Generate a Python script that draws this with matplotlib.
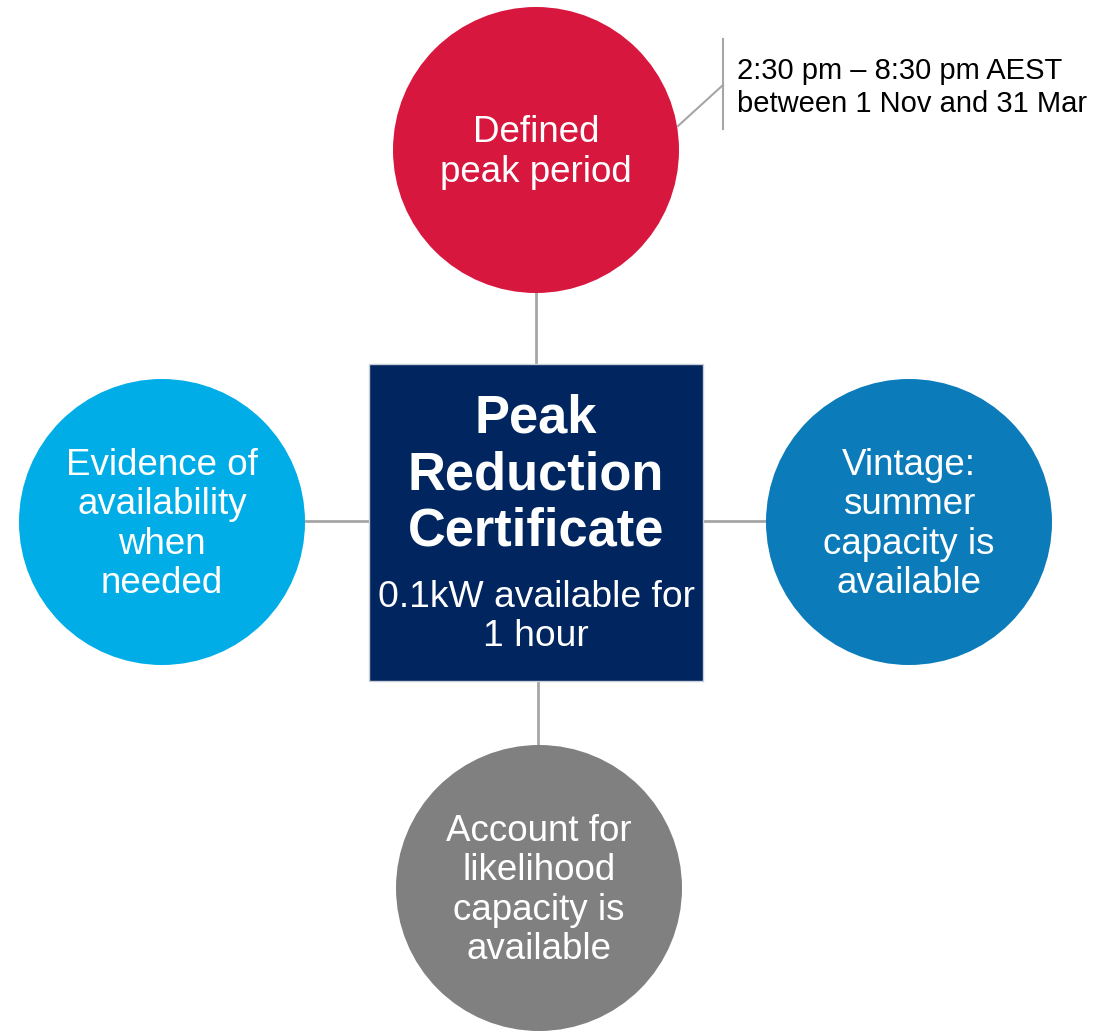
import matplotlib
matplotlib.use('Agg')
import matplotlib.pyplot as plot
from matplotlib.patches import Circle, Rectangle

matplotlib.rcParams['font.family'] = ['Liberation Sans', 'DejaVu Sans']

# node texts and colours
node_labels = ['Defined\npeak period',
               'Evidence of\navailability\nwhen\nneeded',
               'Vintage:\nsummer\ncapacity is\navailable',
               'Account for\nlikelihood\ncapacity is\navailable']
node_colors = ['#D7173D', '#00ADE6', '#0B7BBA', '#808080']
center_title = 'Peak\nReduction\nCertificate'
center_sub = '0.1kW available for\n1 hour'
callout = '2:30 pm – 8:30 pm AEST\nbetween 1 Nov and 31 Mar'

# layout in pixel units
W, H = 1119, 1031
centers = [(536, 150), (162, 522), (909, 522), (539, 888)]
radius = 143
box = (369, 364, 334, 317)  # x, y, w, h
links = [((536, 293), (536, 363)), ((306, 521), (368, 521)),
         ((704, 521), (766, 521)), ((538, 682), (538, 745))]
line_col = '#A6A6A6'

fig = plot.figure(figsize=(W / 100, H / 100), dpi=100)
ax = fig.add_axes([0, 0, 1, 1])
ax.set_xlim(0, W)
ax.set_ylim(H, 0)
ax.axis('off')

for (a, b) in links:
    ax.plot([a[0], b[0]], [a[1], b[1]], color=line_col, lw=2, zorder=1)

for (cx, cy), lab, col in zip(centers, node_labels, node_colors):
    ax.add_patch(Circle((cx, cy), radius, facecolor=col, edgecolor='none', zorder=2))
    ax.text(cx, cy + 2.5, lab, color='white', fontsize=26.5, ha='center', va='center',
            linespacing=1.17, zorder=3)

x, y, w, h = box
ax.add_patch(Rectangle((x, y), w, h, facecolor='#00255F', edgecolor='#C9CED8', lw=1, zorder=2))
ax.text(x + w / 2, 475, center_title, color='white', fontsize=37.8, fontweight='bold',
        ha='center', va='center', linespacing=1.16, zorder=3)
ax.text(x + w / 2, 617, center_sub, color='white', fontsize=26.8,
        ha='center', va='center', linespacing=1.12, zorder=3)

# callout
ax.plot([723, 723], [39, 129], color=line_col, lw=1.5)
ax.plot([678, 723], [126, 85], color=line_col, lw=1.5)
ax.text(737, 87.5, callout, color='black', fontsize=21, ha='left', va='center',
        linespacing=1.27)

fig.savefig('out.png', dpi=100, facecolor='white')
